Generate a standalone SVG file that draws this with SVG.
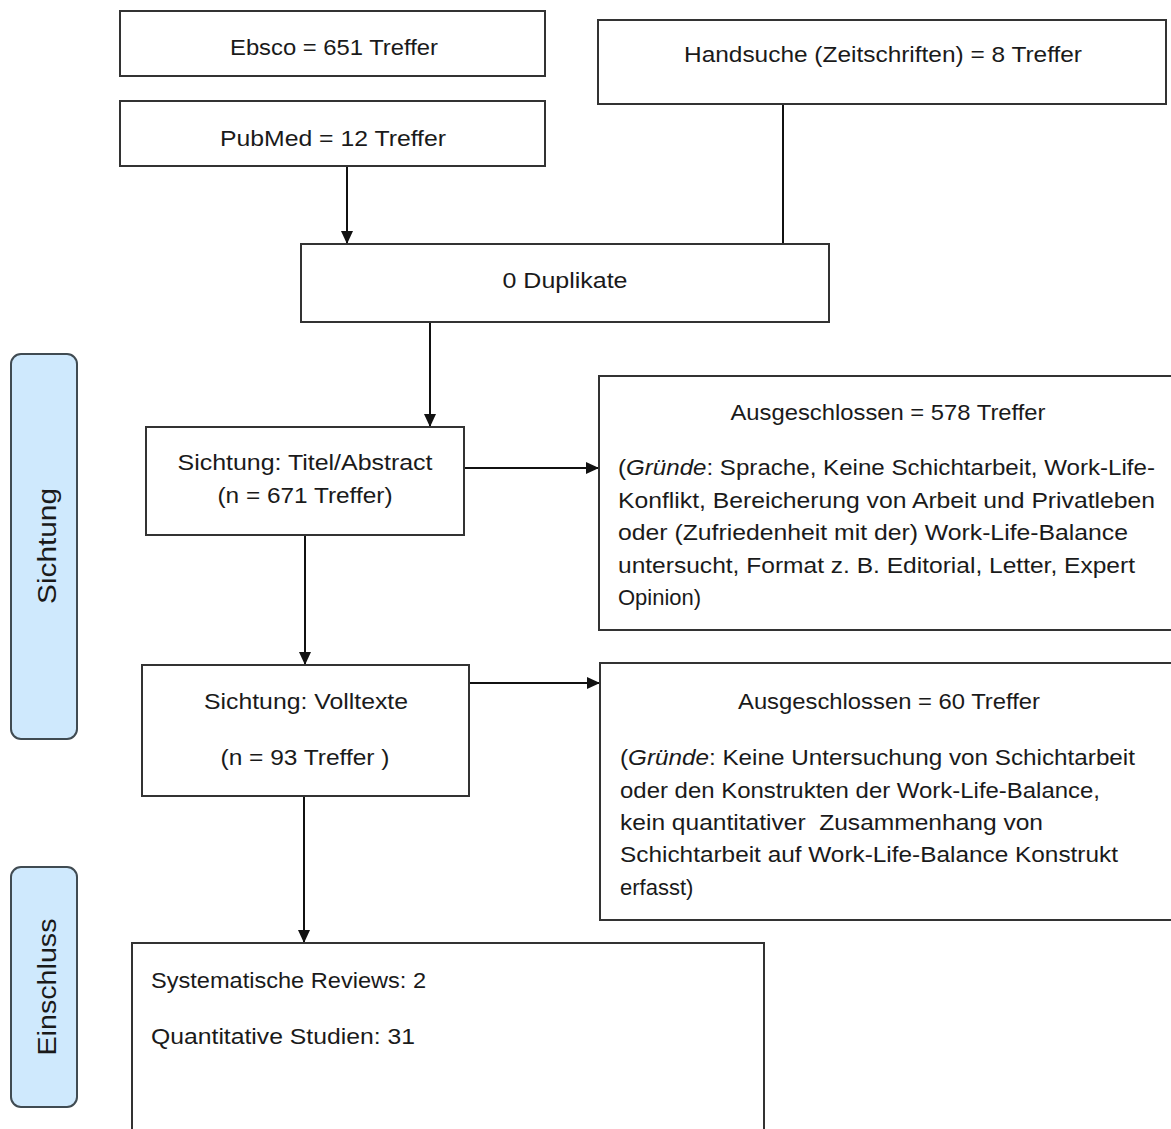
<svg xmlns="http://www.w3.org/2000/svg" width="1171" height="1129" viewBox="0 0 1171 1129">
  <defs>
    <marker id="arrow" viewBox="0 0 13 12" refX="13" refY="6" markerWidth="13" markerHeight="12" markerUnits="userSpaceOnUse" orient="auto">
      <path d="M0,0 L13,6 L0,12 Z" fill="#111"/>
    </marker>
    <style>
      .box { fill: #ffffff; stroke: #333333; stroke-width: 2; }
      .phase { fill: #cfe9fd; stroke: #404b52; stroke-width: 2; }
      .t { font-family: "Liberation Sans", Arial, sans-serif; font-size: 22px; fill: #1a1a1a; }
      .c { text-anchor: middle; }
      .ph { font-family: "Liberation Sans", Arial, sans-serif; font-size: 25px; fill: #1a1a1a; text-anchor: middle; }
      .edge { fill: none; stroke: #111; stroke-width: 2; }
    </style>
  </defs>
  <rect width="1171" height="1129" fill="#ffffff"/>

  <!-- phase labels -->
  <g id="phase-sichtung">
    <rect class="phase" x="11" y="354" width="66" height="385" rx="10"/>
    <text class="ph" transform="translate(56,546) rotate(-90)" textLength="116" lengthAdjust="spacingAndGlyphs">Sichtung</text>
  </g>
  <g id="phase-einschluss">
    <rect class="phase" x="11" y="867" width="66" height="240" rx="10"/>
    <text class="ph" transform="translate(56,987) rotate(-90)" textLength="137" lengthAdjust="spacingAndGlyphs">Einschluss</text>
  </g>

  <!-- connectors -->
  <g id="connectors">
    <line class="edge" x1="347" y1="166" x2="347" y2="244" marker-end="url(#arrow)"/>
    <line class="edge" x1="783" y1="104" x2="783" y2="244"/>
    <line class="edge" x1="430" y1="322" x2="430" y2="427" marker-end="url(#arrow)"/>
    <line class="edge" x1="464" y1="468" x2="599" y2="468" marker-end="url(#arrow)"/>
    <line class="edge" x1="305" y1="535" x2="305" y2="665" marker-end="url(#arrow)"/>
    <line class="edge" x1="469" y1="683" x2="600" y2="683" marker-end="url(#arrow)"/>
    <line class="edge" x1="304" y1="796" x2="304" y2="943" marker-end="url(#arrow)"/>
  </g>

  <!-- sources -->
  <g id="ebsco">
    <rect class="box" x="120" y="11" width="425" height="65"/>
    <text class="t c" x="334" y="55" textLength="208" lengthAdjust="spacingAndGlyphs">Ebsco = 651 Treffer</text>
  </g>
  <g id="pubmed">
    <rect class="box" x="120" y="101" width="425" height="65"/>
    <text class="t c" x="333" y="146" textLength="226" lengthAdjust="spacingAndGlyphs">PubMed = 12 Treffer</text>
  </g>
  <g id="handsuche">
    <rect class="box" x="598" y="20" width="568" height="84"/>
    <text class="t c" x="883" y="62" textLength="398" lengthAdjust="spacingAndGlyphs">Handsuche (Zeitschriften) = 8 Treffer</text>
  </g>

  <g id="duplikate">
    <rect class="box" x="301" y="244" width="528" height="78"/>
    <text class="t c" x="565" y="288" textLength="125" lengthAdjust="spacingAndGlyphs">0 Duplikate</text>
  </g>

  <g id="sichtung-titel">
    <rect class="box" x="146" y="427" width="318" height="108"/>
    <text class="t c" x="305" y="470" textLength="255" lengthAdjust="spacingAndGlyphs">Sichtung: Titel/Abstract</text>
    <text class="t c" x="305" y="503" textLength="175" lengthAdjust="spacingAndGlyphs">(n = 671 Treffer)</text>
  </g>

  <g id="ausgeschlossen-578">
    <rect class="box" x="599" y="376" width="580" height="254"/>
    <text class="t c" x="888" y="420" textLength="315" lengthAdjust="spacingAndGlyphs">Ausgeschlossen = 578 Treffer</text>
    <text class="t" x="618" y="475" textLength="537" lengthAdjust="spacingAndGlyphs">(<tspan font-style="italic">Gründe</tspan>: Sprache, Keine Schichtarbeit, Work-Life-</text>
    <text class="t" x="618" y="508" textLength="537" lengthAdjust="spacingAndGlyphs">Konflikt, Bereicherung von Arbeit und Privatleben</text>
    <text class="t" x="618" y="540" textLength="510" lengthAdjust="spacingAndGlyphs">oder (Zufriedenheit mit der) Work-Life-Balance</text>
    <text class="t" x="618" y="573" textLength="517" lengthAdjust="spacingAndGlyphs">untersucht, Format z. B. Editorial, Letter, Expert</text>
    <text class="t" x="618" y="605">Opinion)</text>
  </g>

  <g id="sichtung-volltexte">
    <rect class="box" x="142" y="665" width="327" height="131"/>
    <text class="t c" x="306" y="709" textLength="204" lengthAdjust="spacingAndGlyphs">Sichtung: Volltexte</text>
    <text class="t c" x="305" y="765" textLength="169" lengthAdjust="spacingAndGlyphs">(n = 93 Treffer )</text>
  </g>

  <g id="ausgeschlossen-60">
    <rect class="box" x="600" y="663" width="580" height="257"/>
    <text class="t c" x="889" y="709" textLength="302" lengthAdjust="spacingAndGlyphs">Ausgeschlossen = 60 Treffer</text>
    <text class="t" x="620" y="765" textLength="515" lengthAdjust="spacingAndGlyphs">(<tspan font-style="italic">Gründe</tspan>: Keine Untersuchung von Schichtarbeit</text>
    <text class="t" x="620" y="798" textLength="480" lengthAdjust="spacingAndGlyphs">oder den Konstrukten der Work-Life-Balance,</text>
    <text class="t" x="620" y="830" textLength="423" lengthAdjust="spacingAndGlyphs" xml:space="preserve">kein quantitativer  Zusammenhang von</text>
    <text class="t" x="620" y="862" textLength="498" lengthAdjust="spacingAndGlyphs">Schichtarbeit auf Work-Life-Balance Konstrukt</text>
    <text class="t" x="620" y="895">erfasst)</text>
  </g>

  <g id="einschluss">
    <rect class="box" x="132" y="943" width="632" height="200"/>
    <text class="t" x="151" y="988" textLength="275" lengthAdjust="spacingAndGlyphs">Systematische Reviews: 2</text>
    <text class="t" x="151" y="1044" textLength="264" lengthAdjust="spacingAndGlyphs">Quantitative Studien: 31</text>
  </g>
</svg>
